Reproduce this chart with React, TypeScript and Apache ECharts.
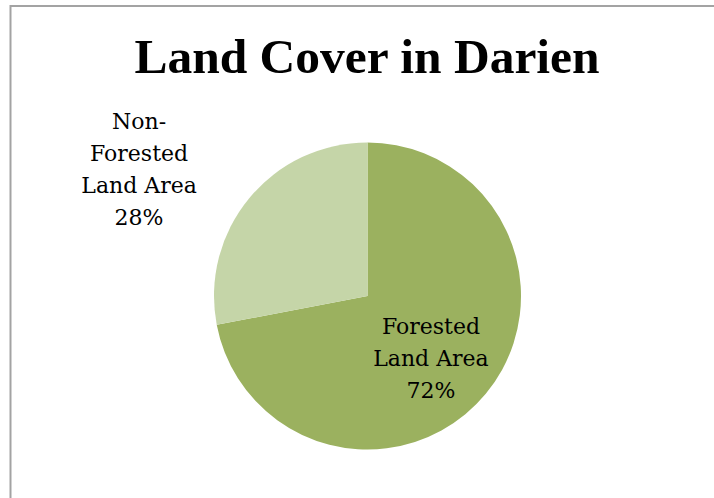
import React, { useEffect, useRef } from "react";
import * as echarts from "echarts";

const titleText = "Land Cover in Darien";
const categories = ["Forested Land Area", "Non-Forested Land Area"];
const values = [72, 28];
const colors = ["#9BB15F", "#C5D5A8"];

export default function App() {
  const ref = useRef<HTMLDivElement>(null);
  useEffect(() => {
    if (!ref.current) return;
    const chart = echarts.init(ref.current, null, { renderer: "svg" });
    const offsets = [
      { dx: 2, dy: 11.5 },
      { dx: -167, dy: -75.4 },
    ];
    chart.setOption({
      animation: false,
      backgroundColor: "#ffffff",
      title: {
        text: titleText,
        left: 362,
        top: 26,
        textAlign: "center",
        textStyle: {
          fontFamily: "Liberation Serif",
          fontWeight: "bold",
          fontSize: 49.5,
          color: "#000000",
        },
      },
      graphic: [
        {
          type: "polyline",
          silent: true,
          shape: { points: [[10.5, 498], [10.5, 6], [714, 6]] },
          style: { stroke: "#a3a3a3", lineWidth: 2, fill: null },
        },
      ],
      series: [
        {
          type: "pie",
          center: [367.5, 296],
          radius: 153.5,
          startAngle: 90,
          clockwise: true,
          avoidLabelOverlap: false,
          data: categories.map((name, i) => ({
            name,
            value: values[i],
            itemStyle: { color: colors[i] },
          })),
          label: {
            show: true,
            position: "inside",
            fontFamily: "DejaVu Serif",
            fontSize: 22,
            lineHeight: 32,
            color: "#000000",
            align: "center",
            formatter: (p: any) =>
              p.name.replace("Non-", "Non-\n").replace(" Land", "\nLand") +
              "\n" +
              Math.round(p.percent) +
              "%",
          },
          labelLine: { show: false },
          labelLayout: (p: any) => offsets[p.dataIndex],
          emphasis: { disabled: true },
        },
      ],
    });
    return () => chart.dispose();
  }, []);
  return (
    <div
      ref={ref}
      style={{ position: "fixed", left: 0, top: 0, width: 714, height: 498 }}
    />
  );
}
